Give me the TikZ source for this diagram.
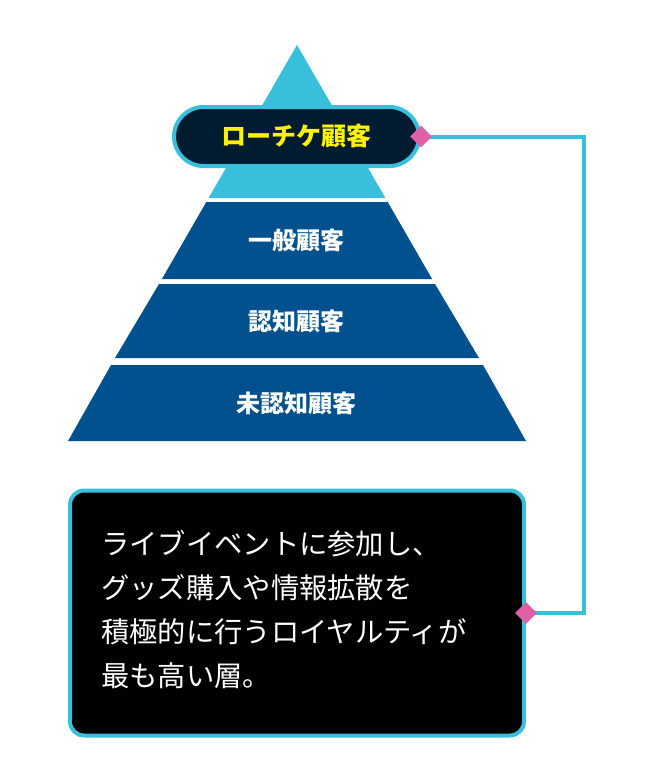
\documentclass[tikz,border=0pt]{standalone}
\usepackage{fontspec}
\newfontfamily\jpfont{Noto Sans CJK JP}
\usetikzlibrary{shapes.geometric}
\definecolor{skyband}{HTML}{38BFDB}
\definecolor{deepband}{HTML}{00518E}
\definecolor{pillnavy}{HTML}{011B30}
\definecolor{pinkmark}{HTML}{E060A6}
\definecolor{tagyellow}{HTML}{FFF200}
\tikzset{
  bandlabel/.style={text=white, font=\jpfont\bfseries\fontsize{24}{28}\selectfont, inner sep=0pt},
  tagpill/.style={draw=skyband, line width=4pt, fill=pillnavy, rounded corners=29.5pt,
    minimum width=245pt, minimum height=59pt, text=tagyellow,
    font=\jpfont\bfseries\fontsize{25}{30}\selectfont},
  notebox/.style={draw=skyband, line width=4pt, fill=black, rounded corners=14pt,
    minimum width=454pt, minimum height=245pt},
  notetext/.style={text=white, align=left, inner sep=0pt,
    font=\jpfont\fontsize{28.3}{43.7}\selectfont},
  pinkdot/.style={diamond, fill=pinkmark, inner sep=0pt, minimum width=22pt, minimum height=22pt},
  link/.style={draw=skyband, line width=4pt}
}
\begin{document}
\begin{tikzpicture}[x=1pt,y=-1pt]
                \useasboundingbox (0,0) rectangle (654,784);
                % pyramid
                \fill [skyband] (297,45) -- (385.4,198) -- (208.6,198) -- cycle;
                \fill [deepband] (206.3,202) -- (387.7,202) -- (432.1,279) -- (161.9,279) -- cycle;
                \fill [deepband] (159,284) -- (435,284) -- (479,358) -- (115,358) -- cycle;
                \fill [deepband] (111,365) -- (483,365) -- (526,441) -- (68,441) -- cycle;
                \node [bandlabel] (general) at (296,240.5) {一般顧客};
                \node [bandlabel] (aware) at (296,321.5) {認知顧客};
                \node [bandlabel] (unaware) at (296,403.5) {未認知顧客};
                % top tier tag
                \node [tagpill] (top) at (296.5,136.5) {ローチケ顧客};
                % description
                \node [notebox] (desc) at (297,613) {};
                \node [notetext, anchor=west] (desctext) at (101,609.5)
                  {ライブイベントに参加し、\\グッズ購入や情報拡散を\\積極的に行うロイヤルティが\\最も高い層。};
                \coordinate (turn) at (584,400);
                \draw [link] (top.east) -| (turn) |- (desc.east);
                \node [pinkdot] (topmark) at (top.east) {};
                \node [pinkdot] (descmark) at (desc.east) {};
            \end{tikzpicture}
\end{document}
